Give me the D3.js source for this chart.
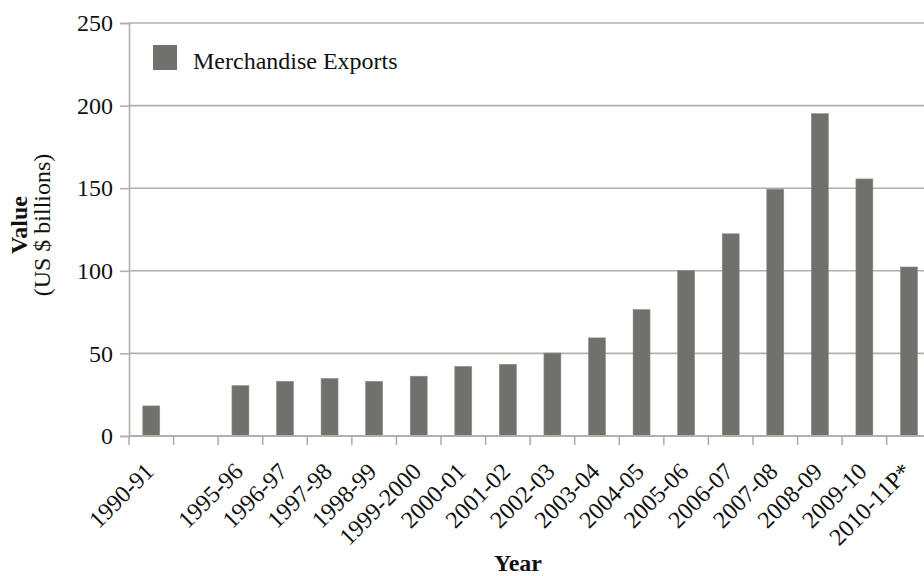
<!DOCTYPE html>
<html>
<head>
<meta charset="utf-8">
<script src="https://cdn.jsdelivr.net/npm/d3@7"></script>
<style>
  body { margin: 0; background: #fff; }
  svg text { font-family: 'Liberation Serif', 'DejaVu Serif', serif; fill: #111; }
</style>
</head>
<body>
<div id="chart"></div>
<script>
// Data
const years = ['1990-91', '', '1995-96', '1996-97', '1997-98', '1998-99', '1999-2000',
  '2000-01', '2001-02', '2002-03', '2003-04', '2004-05', '2005-06', '2006-07',
  '2007-08', '2008-09', '2009-10', '2010-11P*'];
const exports = [18.2, null, 30.5, 33.1, 34.8, 33.1, 36.2, 42.1, 43.4, 50.2, 59.4,
  76.5, 100.1, 122.4, 149.4, 195.1, 155.6, 102.3];
const yTicks = [0, 50, 100, 150, 200, 250];

// Dimensions
const width = 924, height = 576;
const margin = { left: 129, top: 23 };
const bandW = 44.57;
const fontSize = 24;

const svg = d3.select('#chart').append('svg')
  .attr('width', width)
  .attr('height', height);

const x = d3.scaleBand()
  .domain(d3.range(years.length))
  .range([margin.left, margin.left + bandW * years.length])
  .paddingInner(0.62)
  .paddingOuter(0.31);

const y = d3.scaleLinear()
  .domain([0, 250])
  .range([436, margin.top]);

const gridColor = '#b3b0aa';

// Gridlines
svg.append('g')
  .selectAll('line')
  .data(yTicks.filter((d) => d > 0))
  .join('line')
  .attr('x1', margin.left)
  .attr('x2', width)
  .attr('y1', (d) => y(d))
  .attr('y2', (d) => y(d))
  .attr('stroke', gridColor)
  .attr('stroke-width', 1.6);

// Bars
svg.append('g')
  .selectAll('rect')
  .data(exports.map((v, i) => ({ v, i })).filter((d) => d.v != null))
  .join('rect')
  .attr('x', (d) => x(d.i))
  .attr('width', x.bandwidth())
  .attr('y', (d) => y(d.v))
  .attr('height', (d) => y(0) - y(d.v))
  .attr('fill', '#70716c')
  .attr('stroke', '#8a8a86')
  .attr('stroke-width', 0.6);

// Y axis
const yAxis = svg.append('g')
  .attr('transform', `translate(${margin.left},0)`)
  .call(d3.axisLeft(y).tickValues(yTicks).tickSize(9).tickPadding(7));
yAxis.select('.domain').attr('stroke', gridColor).attr('stroke-width', 1.6);
yAxis.selectAll('.tick line').attr('stroke', gridColor).attr('stroke-width', 1.6);
yAxis.selectAll('.tick text')
  .attr('font-size', fontSize)
  .attr('font-family', 'Liberation Serif')
  .attr('fill', '#111');

// X axis: ticks sit on band boundaries
const xAxisG = svg.append('g');
xAxisG.append('line')
  .attr('x1', margin.left)
  .attr('x2', width)
  .attr('y1', y(0))
  .attr('y2', y(0))
  .attr('stroke', gridColor)
  .attr('stroke-width', 2);
xAxisG.selectAll('.xtick')
  .data(d3.range(years.length))
  .join('line')
  .attr('class', 'xtick')
  .attr('x1', (i) => margin.left + i * bandW)
  .attr('x2', (i) => margin.left + i * bandW)
  .attr('y1', y(0))
  .attr('y2', y(0) + 9)
  .attr('stroke', gridColor)
  .attr('stroke-width', 1.6);

xAxisG.selectAll('.xlabel')
  .data(years)
  .join('text')
  .attr('class', 'xlabel')
  .attr('text-anchor', 'end')
  .attr('font-size', fontSize)
  .attr('transform', (d, i) => {
    const cx = x(i) + x.bandwidth() / 2 - 2;
    return `translate(${cx},467) rotate(-45)`;
  })
  .attr('dy', '0.35em')
  .text((d) => d);

// Axis titles
const yTitle = svg.append('text')
  .attr('transform', 'translate(27,225) rotate(-90)')
  .attr('text-anchor', 'middle')
  .attr('font-size', fontSize);
yTitle.append('tspan').attr('font-weight', 'bold').attr('x', 0).text('Value');
yTitle.append('tspan').attr('x', 0).attr('dy', 23).text('(US $ billions)');

svg.append('text')
  .attr('x', 518)
  .attr('y', 571)
  .attr('text-anchor', 'middle')
  .attr('font-size', fontSize)
  .attr('font-weight', 'bold')
  .text('Year');

// Legend
svg.append('rect')
  .attr('x', 153)
  .attr('y', 45)
  .attr('width', 24)
  .attr('height', 25)
  .attr('fill', '#70716c');
svg.append('text')
  .attr('x', 193)
  .attr('y', 69)
  .attr('font-size', fontSize)
  .text('Merchandise Exports');
</script>
</body>
</html>
